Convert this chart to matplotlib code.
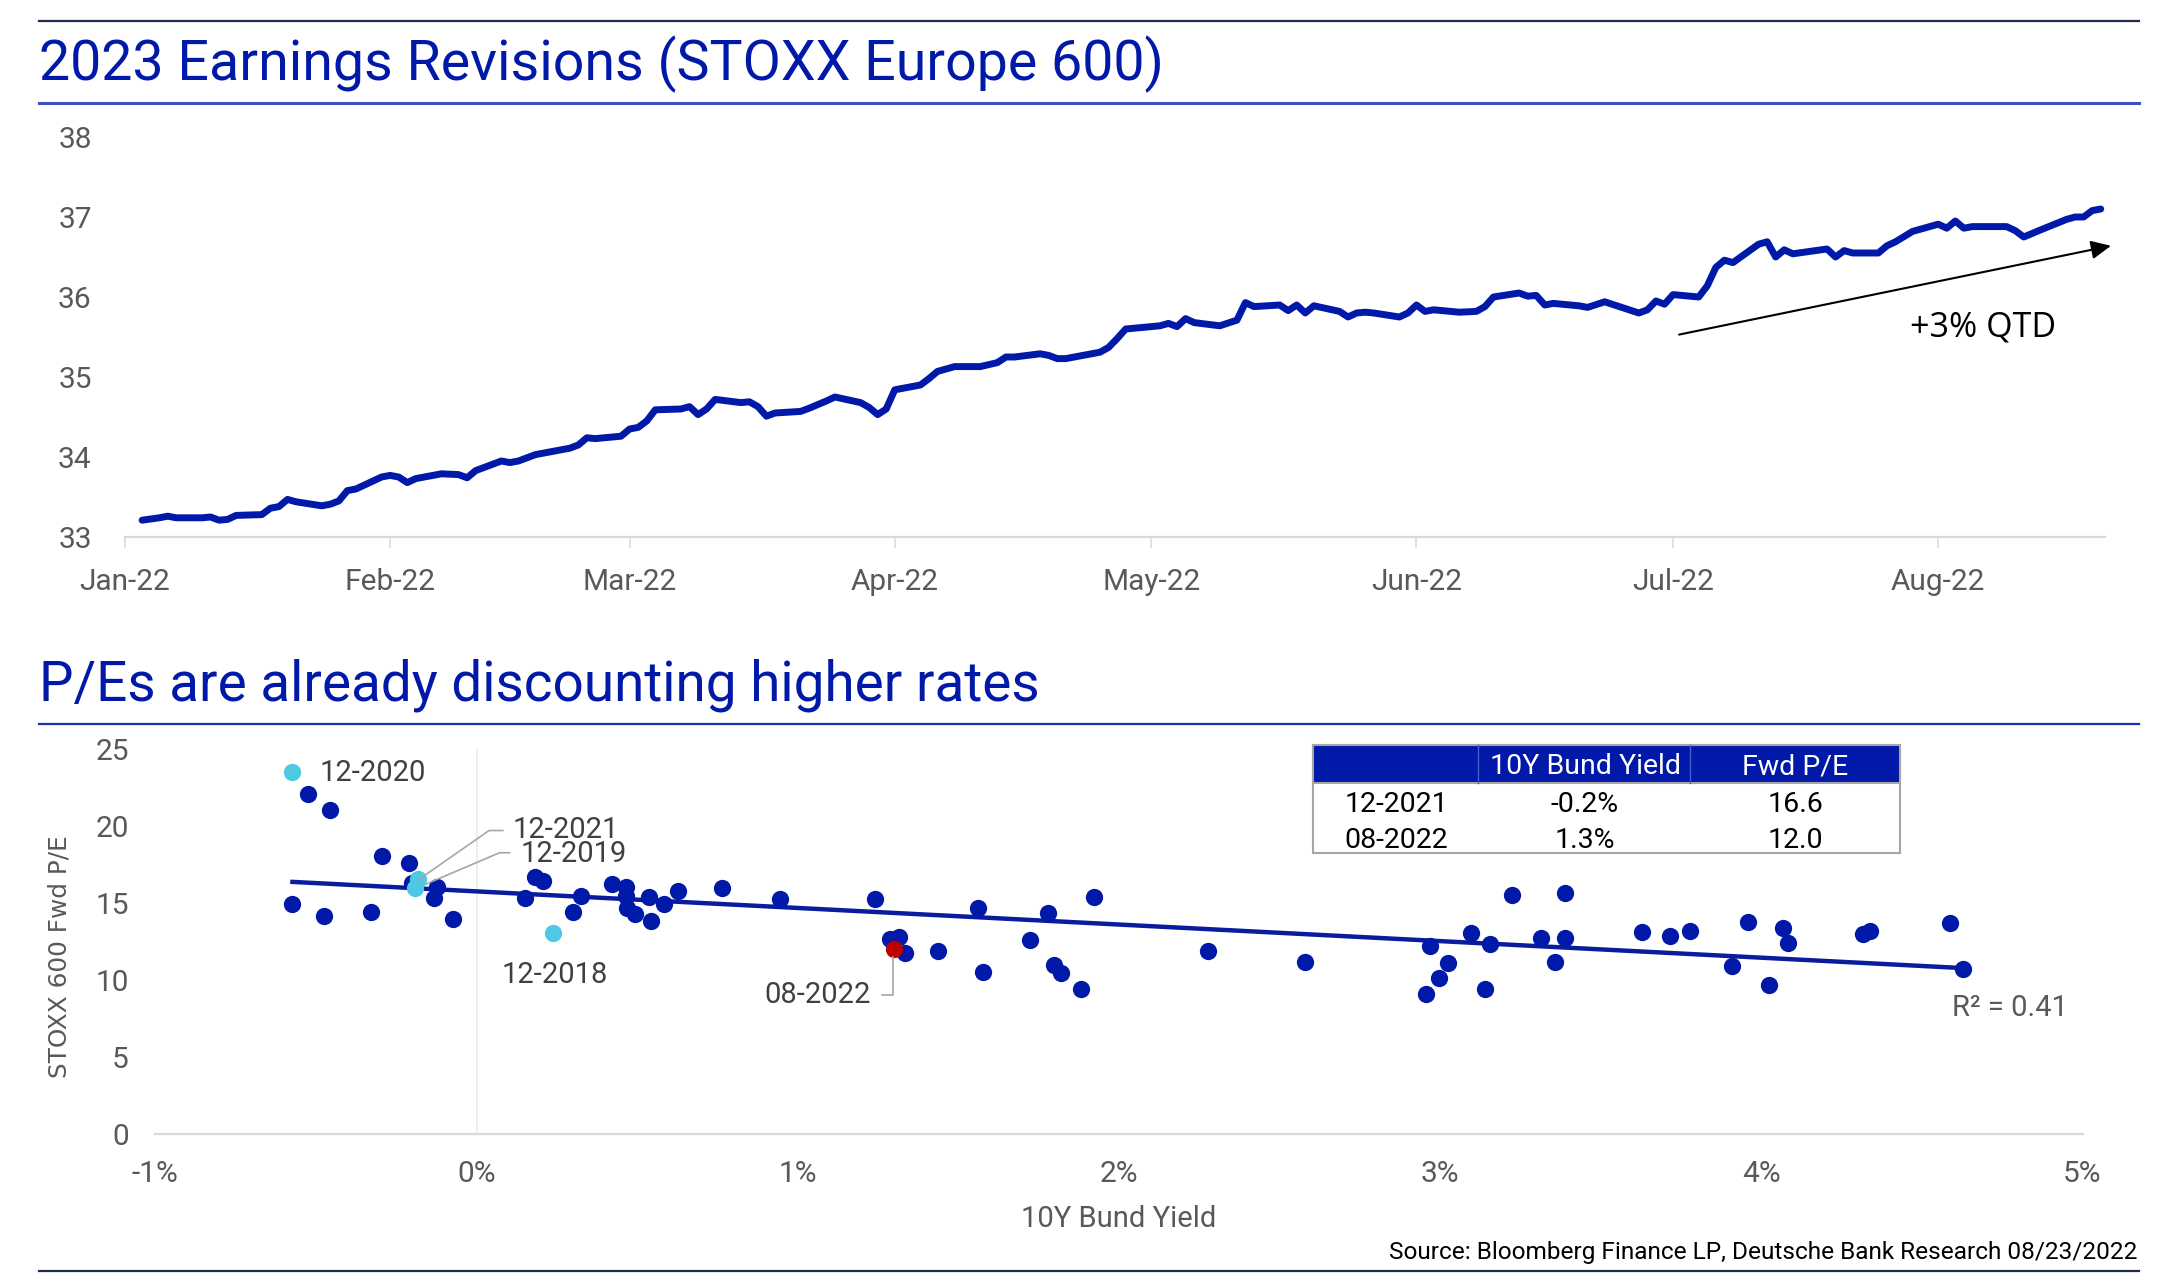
import numpy as np
import pandas as pd
import matplotlib
matplotlib.use("Agg")
import matplotlib.pyplot as plt
from matplotlib.patches import Rectangle
from matplotlib.lines import Line2D

# ------------------------------------------------------------------ data
base_date = "2022-01-01"
rev_day = [2, 4, 5, 6, 9, 10, 11, 12, 13, 16, 17, 18, 19, 20, 23, 24, 25, 26, 27, 30,
           31, 32, 33, 34, 37, 39, 40, 41, 44, 45, 46, 48, 52, 53, 54, 55, 58, 59, 60, 61,
           62, 65, 66, 67, 68, 69, 72, 73, 74, 75, 76, 79, 80, 82, 83, 86, 87, 88, 89, 90,
           93, 94, 95, 97, 100, 102, 103, 104, 107, 108, 109, 110, 114, 115, 116, 117, 121, 122, 123, 124,
           125, 128, 130, 131, 132, 135, 136, 137, 138, 139, 142, 143, 144, 145, 146, 149, 150, 151, 152, 153,
           156, 158, 159, 160, 163, 164, 165, 166, 167, 170, 171, 173, 177, 178, 179, 180, 181, 184, 185, 186,
           187, 188, 191, 192, 193, 194, 195, 199, 200, 201, 202, 205, 206, 207, 209, 212, 213, 214, 215, 216,
           220, 221, 222, 224, 227, 228, 229, 230, 231]
rev_val = [33.21, 33.24, 33.26, 33.24, 33.24, 33.25, 33.21, 33.22, 33.27, 33.28, 33.36, 33.38, 33.47, 33.44, 33.39, 33.41, 33.45, 33.58, 33.60, 33.75,
           33.77, 33.75, 33.68, 33.73, 33.79, 33.78, 33.74, 33.83, 33.95, 33.93, 33.95, 34.03, 34.11, 34.15, 34.24, 34.23, 34.26, 34.35, 34.37, 34.45,
           34.59, 34.60, 34.63, 34.53, 34.60, 34.72, 34.68, 34.69, 34.63, 34.51, 34.55, 34.57, 34.61, 34.70, 34.75, 34.68, 34.62, 34.53, 34.60, 34.84,
           34.90, 34.98, 35.07, 35.13, 35.13, 35.18, 35.25, 35.25, 35.29, 35.27, 35.23, 35.23, 35.31, 35.37, 35.48, 35.60, 35.64, 35.67, 35.63, 35.73,
           35.68, 35.64, 35.71, 35.93, 35.88, 35.90, 35.83, 35.90, 35.80, 35.89, 35.82, 35.75, 35.80, 35.81, 35.80, 35.75, 35.80, 35.90, 35.82, 35.84,
           35.81, 35.82, 35.88, 36.00, 36.05, 36.01, 36.02, 35.90, 35.92, 35.89, 35.87, 35.94, 35.80, 35.84, 35.95, 35.91, 36.03, 36.00, 36.14, 36.37,
           36.46, 36.43, 36.66, 36.69, 36.50, 36.59, 36.54, 36.60, 36.50, 36.58, 36.55, 36.55, 36.64, 36.69, 36.82, 36.91, 36.86, 36.95, 36.86, 36.88,
           36.88, 36.83, 36.75, 36.84, 36.97, 37.00, 37.00, 37.08, 37.10]
month_ticks = ["2022-01-01", "2022-02-01", "2022-03-01", "2022-04-01",
               "2022-05-01", "2022-06-01", "2022-07-01", "2022-08-01"]
month_labels = ["Jan-22", "Feb-22", "Mar-22", "Apr-22", "May-22", "Jun-22", "Jul-22", "Aug-22"]
rev_yticks = [33, 34, 35, 36, 37, 38]

bund_yield = [-0.524, -0.457, -0.573, -0.475, -0.330, -0.295, -0.211, -0.201, -0.124, -0.132,
              -0.074, 0.151, 0.183, 0.207, 0.299, 0.324, 0.423, 0.464, 0.466, 0.469,
              0.493, 0.537, 0.543, 0.585, 0.628, 0.763, 0.945, 1.242, 1.287, 1.314,
              1.334, 1.438, 1.561, 1.577, 1.723, 1.778, 1.798, 1.821, 1.882, 1.924,
              2.278, 2.578, 2.957, 2.967, 2.997, 3.026, 3.097, 3.139, 3.154, 3.225,
              3.315, 3.357, 3.390, 3.390, 3.629, 3.715, 3.778, 3.908, 3.958, 4.023,
              4.067, 4.082, 4.318, 4.337, 4.586, 4.628]
fwd_pe = [22.06, 21.03, 14.91, 14.17, 14.41, 18.06, 17.61, 16.27, 16.05, 15.30,
          13.96, 15.34, 16.66, 16.42, 14.43, 15.47, 16.20, 16.05, 15.45, 14.65,
          14.28, 15.40, 13.83, 14.93, 15.79, 15.99, 15.25, 15.25, 12.64, 12.77,
          11.73, 11.88, 14.65, 10.54, 12.59, 14.32, 10.97, 10.47, 9.39, 15.40,
          11.88, 11.14, 9.09, 12.22, 10.15, 11.08, 13.07, 9.39, 12.33, 15.51,
          12.70, 11.19, 15.66, 12.74, 13.13, 12.85, 13.20, 10.91, 13.78, 9.67,
          13.35, 12.42, 12.98, 13.20, 13.67, 10.71]
hl_labels = ["12-2020", "12-2021", "12-2019", "12-2018"]
hl_yield = [-0.573, -0.182, -0.190, 0.237]
hl_pe = [23.47, 16.55, 15.95, 13.02]
cur_label = "08-2022"
cur_yield = [1.30]
cur_pe = [12.0]
pe_xticks = [-1, 0, 1, 2, 3, 4, 5]
pe_xlabels = ["-1%", "0%", "1%", "2%", "3%", "4%", "5%"]
pe_yticks = [0, 5, 10, 15, 20, 25]
r2_text = "R² = 0.41"
table_header = ["", "10Y Bund Yield", "Fwd P/E"]
table_rows = [["12-2021", "-0.2%", "16.6"], ["08-2022", "1.3%", "12.0"]]

# ------------------------------------------------------------------ style
W, H, DPI = 2174, 1284, 100
BLUE = "#0019A8"
CYAN = "#4EC9E3"
RED = "#C00000"
GRAY = "#595959"
AXGRAY = "#D9D9D9"
FONT = ["Roboto", "DejaVu Sans"]
plt.rcParams["font.family"] = FONT
TICK_FS = 21.5
LBL_FS = 21

def fx(px):
    return px / W

def fy(py):
    return 1 - py / H

fig = plt.figure(figsize=(W / DPI, H / DPI), dpi=DPI)
fig.patch.set_facecolor("white")

# rules
fig.add_artist(Line2D([fx(39), fx(2139)], [fy(21), fy(21)], color="#1F2D4D", lw=1.6))
fig.add_artist(Line2D([fx(39), fx(2139)], [fy(103), fy(103)], color="#3F51C0", lw=2.2))
fig.add_artist(Line2D([fx(39), fx(2139)], [fy(724), fy(724)], color="#1A33B0", lw=1.6))
fig.add_artist(Line2D([fx(39), fx(2139)], [fy(1271), fy(1271)], color="#1F2D4D", lw=1.6))

fig.text(fx(39), fy(64), "2023 Earnings Revisions (STOXX Europe 600)", color=BLUE,
         fontsize=40, ha="left", va="center")
fig.text(fx(39), fy(685), "P/Es are already discounting higher rates", color=BLUE,
         fontsize=39.5, ha="left", va="center")

# ------------------------------------------------------------------ top chart
x0 = pd.Timestamp(base_date)
dates = x0 + pd.to_timedelta(rev_day, unit="D")
ax1 = fig.add_axes([fx(125), fy(537), (2105 - 125) / W, (537 - 137) / H])
ax1.plot(dates, rev_val, color=BLUE, lw=5.0, solid_joinstyle="round", solid_capstyle="round")
ax1.set_xlim(x0, x0 + pd.Timedelta(days=231.5))
ax1.set_ylim(33, 38)
ax1.set_xticks(pd.to_datetime(month_ticks))
ax1.set_xticklabels(month_labels)
ax1.set_yticks(rev_yticks)
for s in ["top", "right", "left"]:
    ax1.spines[s].set_visible(False)
ax1.spines["bottom"].set_color(AXGRAY)
ax1.spines["bottom"].set_linewidth(1.6)
ax1.tick_params(axis="x", colors=AXGRAY, length=8, width=1.2, pad=14, labelsize=TICK_FS, labelcolor=GRAY)
ax1.tick_params(axis="y", length=0, pad=24, labelsize=TICK_FS, labelcolor=GRAY)
ax1.patch.set_alpha(0)

arrow_start = (x0 + pd.Timedelta(days=181.7), 35.53)
arrow_end = (x0 + pd.Timedelta(days=232.2), 36.64)
ax1.annotate("", xy=arrow_end, xytext=arrow_start, annotation_clip=False,
             arrowprops=dict(arrowstyle="-|>,head_length=0.6,head_width=0.28", mutation_scale=20,
                             color="black", lw=1.5, shrinkA=0, shrinkB=0))
ax1.text(x0 + pd.Timedelta(days=217.3), 35.62, "+3% QTD", ha="center", va="center",
         fontsize=24.5, color="black", family=["Open Sans", "DejaVu Sans"])

# ------------------------------------------------------------------ scatter
ax2 = fig.add_axes([fx(155.3), fy(1134), (2082.5 - 155.3) / W, (1134 - 748.7) / H])
ax2.set_xlim(-1, 5)
ax2.set_ylim(0, 25)
ax2.axvline(0, color="#EBEBEB", lw=1.2, zorder=0)
all_x = np.array(bund_yield + hl_yield + cur_yield)
all_y = np.array(fwd_pe + hl_pe + cur_pe)
slope, intercept = np.polyfit(all_x, all_y, 1)
xl = np.array([all_x.min(), all_x.max()])
ax2.plot(xl, slope * xl + intercept, color="#0A1C9E", lw=3.2, zorder=2)
DOT = 155
ax2.scatter(bund_yield, fwd_pe, s=DOT, color=BLUE, linewidths=0, zorder=3)
ax2.scatter(hl_yield, hl_pe, s=DOT, color=CYAN, linewidths=0, zorder=4)
ax2.scatter(cur_yield, cur_pe, s=DOT, color=RED, linewidths=0, zorder=5)
ax2.set_xticks(pe_xticks)
ax2.set_xticklabels(pe_xlabels)
ax2.set_yticks(pe_yticks)
for s in ["top", "right", "left"]:
    ax2.spines[s].set_visible(False)
ax2.spines["bottom"].set_color(AXGRAY)
ax2.spines["bottom"].set_linewidth(1.6)
ax2.tick_params(axis="x", length=0, pad=19, labelsize=TICK_FS, labelcolor=GRAY)
ax2.tick_params(axis="y", length=0, pad=19, labelsize=TICK_FS, labelcolor=GRAY)
ax2.patch.set_alpha(0)

LBL = "#404040"
LEAD = "#A6A6A6"
ax2.text(-0.488, 23.45, hl_labels[0], ha="left", va="center", fontsize=LBL_FS, color=LBL)
ax2.text(0.112, 19.75, hl_labels[1], ha="left", va="center", fontsize=LBL_FS, color=LBL)
ax2.plot([0.082, 0.039, -0.182], [19.69, 19.69, 16.48], color=LEAD, lw=1.2, zorder=6)
ax2.text(0.138, 18.2, hl_labels[2], ha="left", va="center", fontsize=LBL_FS, color=LBL)
ax2.plot([0.103, 0.072, -0.159], [18.25, 18.25, 16.2], color=LEAD, lw=1.2, zorder=6)
ax2.text(0.078, 10.34, hl_labels[3], ha="left", va="center", fontsize=LBL_FS, color=LBL)
ax2.text(1.226, 9.03, cur_label, ha="right", va="center", fontsize=LBL_FS, color=LBL)
ax2.plot([1.263, 1.298, 1.298], [9.03, 9.03, 11.5], color=LEAD, lw=1.2, zorder=6)

fig.text(fx(59.6), fy(957), "STOXX 600 Fwd P/E", rotation=90, ha="center", va="center",
         fontsize=17.8, color=GRAY, family=["DejaVu Sans"])
fig.text(fx(1119), fy(1219), "10Y Bund Yield", ha="center", va="center", fontsize=21, color=GRAY)
fig.text(fx(1952), fy(1008), r2_text, ha="left", va="center", fontsize=21, color=GRAY)
fig.text(fx(2137), fy(1253), "Source: Bloomberg Finance LP, Deutsche Bank Research 08/23/2022",
         ha="right", va="center", fontsize=17.6, color="black")

# ------------------------------------------------------------------ table
tx0, tx1 = 1313, 1900
ty0, ty1, ty2 = 744.5, 783, 852.7
col_sep = [1478, 1690]
col_cx = [1396, 1585, 1795]
row_cy = [804, 840]
fig.add_artist(Rectangle((fx(tx0), fy(ty2)), (tx1 - tx0) / W, (ty2 - ty0) / H,
                         facecolor="white", edgecolor="#A6A6A6", lw=1.5))
fig.add_artist(Rectangle((fx(tx0), fy(ty1)), (tx1 - tx0) / W, (ty1 - ty0) / H,
                         facecolor=BLUE, edgecolor="#A6A6A6", lw=1.5))
for cx in col_sep:
    fig.add_artist(Line2D([fx(cx), fx(cx)], [fy(ty0), fy(ty1)], color="#4A5CC8", lw=1.0))
for cx, txt in zip(col_cx, table_header):
    fig.text(fx(cx), fy(766.5), txt, ha="center", va="center", fontsize=20.5, color="white")
for cy, row in zip(row_cy, table_rows):
    for cx, txt in zip(col_cx, row):
        fig.text(fx(cx), fy(cy), txt, ha="center", va="center", fontsize=20.5, color="black")

fig.savefig("out.png", dpi=DPI, facecolor="white")
